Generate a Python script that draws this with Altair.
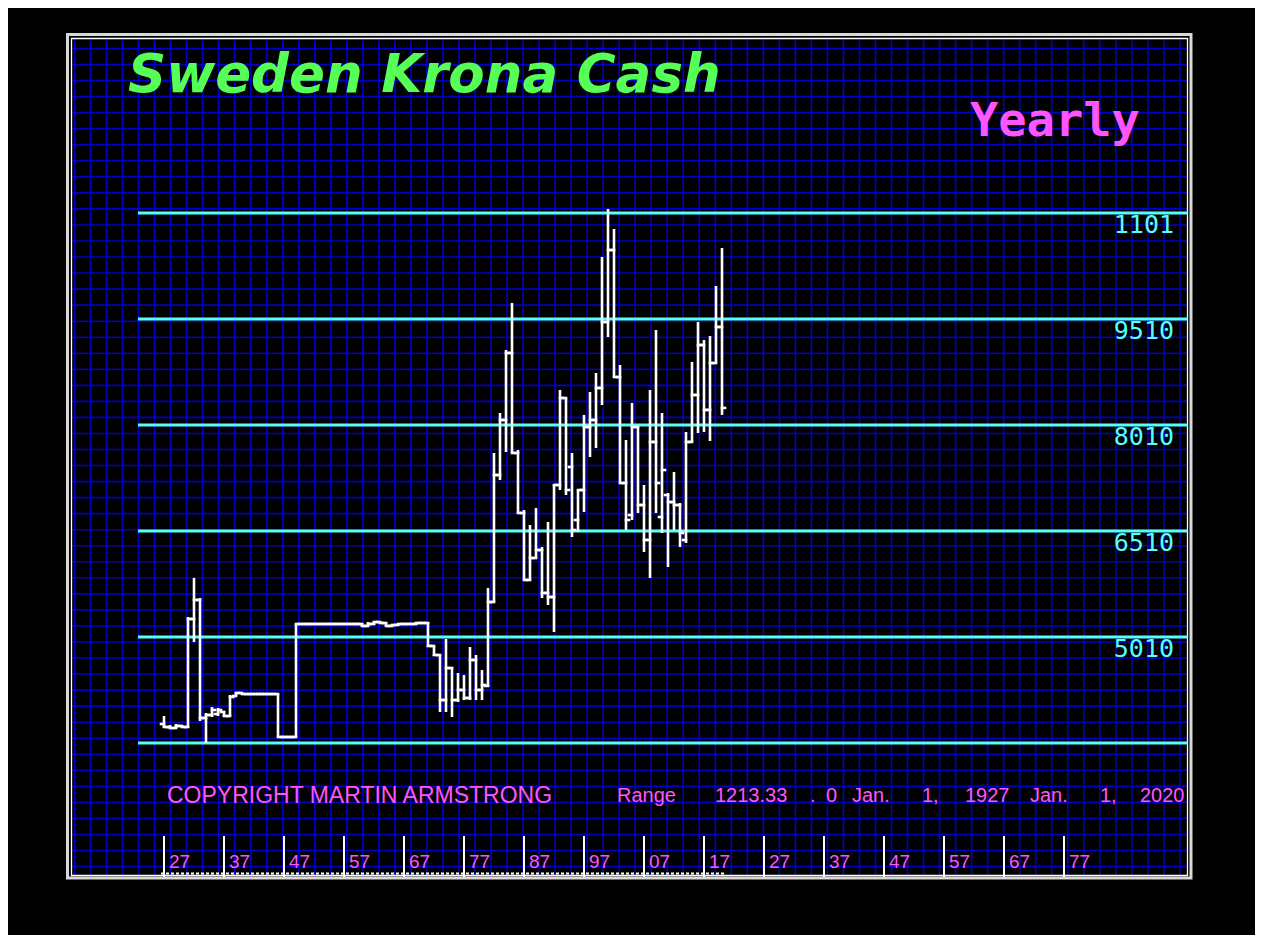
import altair as alt
import pandas as pd

# ---------------- data ----------------
years = list(range(1927, 2021))
opens = [3779, 3736, 3722, 3751, 3736, 5265, 5534, 3864, 3906, 3920,
         3949, 3892, 4175, 4218, 4203, 4203, 4203, 4203, 4203, 4203,
         3595, 3595, 3595, 5194, 5194, 5194, 5194, 5194, 5194, 5194,
         5194, 5194, 5194, 5194, 5166, 5194, 5222, 5208, 5166, 5180,
         5194, 5194, 5194, 5208, 5208, 4883, 4755, 4118, 4571, 4118,
         4260, 4147, 4685, 4260, 4317, 5505, 7302, 8081, 9029, 7614,
         6765, 5817, 6128, 6241, 5633, 5576, 7161, 8392, 7416, 6666,
         7090, 7982, 8081, 8534, 9468, 10486, 8689, 7189, 6736, 7982,
         6878, 6383, 7770, 6708, 7019, 6920, 6878, 6383, 7770, 8435,
         9142, 8223, 8887, 9397]
highs = [3892, 3765, 3779, 3765, 5293, 5845, 5562, 3935, 4019, 4005,
         3963, 4189, 4232, 4218, 4218, 4218, 4218, 4218, 4218, 4203,
         3609, 3609, 5194, 5208, 5208, 5208, 5208, 5208, 5208, 5208,
         5208, 5208, 5208, 5208, 5222, 5236, 5236, 5222, 5194, 5194,
         5208, 5208, 5222, 5222, 5222, 4883, 4755, 4982, 4585, 4501,
         4472, 4868, 4755, 4543, 5703, 7614, 8180, 9071, 9736, 7656,
         6807, 6595, 6835, 6284, 6637, 7161, 8505, 8392, 7614, 7090,
         8152, 8477, 8746, 10387, 11067, 10784, 8859, 7798, 8321, 7982,
         7161, 8505, 9354, 8180, 7048, 7345, 6906, 7911, 8902, 9468,
         9213, 9269, 9977, 10515]
lows = [3722, 3708, 3722, 3722, 3722, 4939, 3821, 3510, 3878, 3892,
        3878, 3892, 4175, 4189, 4189, 4189, 4189, 4189, 4189, 3595,
        3581, 3581, 3595, 5180, 5180, 5180, 5180, 5180, 5180, 5180,
        5180, 5180, 5180, 5151, 5151, 5180, 5194, 5166, 5151, 5166,
        5180, 5180, 5180, 5194, 4868, 4741, 3949, 3949, 3878, 4090,
        4118, 4118, 4118, 4118, 4302, 5505, 7232, 7628, 7614, 6765,
        5817, 5817, 6128, 5562, 5463, 5081, 7090, 7019, 6425, 6496,
        6779, 7557, 7685, 8293, 9255, 8689, 7189, 6524, 6666, 6765,
        6213, 5845, 6765, 6482, 6001, 6524, 6284, 6340, 7770, 7897,
        7911, 7784, 8887, 8152]
closes = [3736, 3722, 3751, 3736, 5265, 5534, 3864, 3906, 3977, 3977,
          3892, 4161, 4218, 4203, 4203, 4203, 4203, 4203, 4203, 3595,
          3595, 3595, 5194, 5194, 5194, 5194, 5194, 5194, 5194, 5194,
          5194, 5194, 5194, 5166, 5194, 5222, 5208, 5166, 5180, 5194,
          5194, 5194, 5208, 5208, 4883, 4755, 4118, 4571, 4118, 4260,
          4147, 4685, 4260, 4331, 5505, 7302, 8081, 9029, 7614, 6765,
          5817, 6128, 6241, 5633, 5576, 7161, 8392, 7090, 6524, 7090,
          7982, 8081, 8534, 9468, 10486, 8689, 7189, 6666, 7982, 6878,
          6383, 7770, 7189, 7373, 6920, 6878, 6482, 7770, 8435, 9142,
          8223, 8887, 9397, 8251]

level_values = [3510, 5010, 6510, 8010, 9510, 11010]
level_labels = ["", "5010", "6510", "8010", "9510", "1101"]

tick_years = [1927, 1937, 1947, 1957, 1967, 1977, 1987, 1997, 2007, 2017,
              2027, 2037, 2047, 2057, 2067, 2077]
tick_labels = ["27", "37", "47", "57", "67", "77", "87", "97", "07", "17",
               "27", "37", "47", "57", "67", "77"]

title_text = "Sweden Krona Cash"
period_text = "Yearly"
copyright_text = "COPYRIGHT MARTIN ARMSTRONG"
range_words = ["Range", "1213.33", ".", "0", "Jan.", "1,", "1927", "Jan.", "1,", "2020"]

# ---------------- layout ----------------
W, H = 1247, 927
OFF = 8


def px(v):
    return v - OFF


range_word_x = [617, 715, 810, 826, 852, 922, 965, 1030, 1100, 1140]

PX_PER_YEAR = 6.0
x_domain = [1927 - (164 - OFF) / PX_PER_YEAR, 1927 - (164 - OFF) / PX_PER_YEAR + W / PX_PER_YEAR]
ppu = 106 / 1500.0
y_domain = [3510 - (OFF + H - 743) / ppu, 11010 + (213 - OFF) / ppu]
xs = alt.Scale(domain=x_domain, nice=False, zero=False)
ys = alt.Scale(domain=y_domain, nice=False, zero=False)

BLUE = "#0000c8"
CYAN = "#55ffff"
PINK = "#ff55ff"
GREEN = "#55ff55"
LW = 2.6

one = pd.DataFrame({"a": [0]})

# grid
gx = [px(74.5 + 16.02 * k) for k in range(70)]
gy = [px(48.5 + 16.04 * k) for k in range(52)]
grid_v = alt.Chart(pd.DataFrame({"gx": gx})).mark_rule(color=BLUE, strokeWidth=1.6).encode(
    x=alt.X("gx:Q", scale=None, axis=None), y=alt.value(px(38.5)), y2=alt.value(px(875.5)))
grid_h = alt.Chart(pd.DataFrame({"gy": gy})).mark_rule(color=BLUE, strokeWidth=1.6).encode(
    y=alt.Y("gy:Q", scale=None, axis=None), x=alt.value(px(72)), x2=alt.value(px(1187.5)))

frame_outer = alt.Chart(one).mark_rect(fillOpacity=0, stroke="#d8d8d8", strokeWidth=3).encode(
    x=alt.value(px(67.5)), x2=alt.value(px(1191)), y=alt.value(px(34.5)), y2=alt.value(px(878)))
frame_inner = alt.Chart(one).mark_rect(fillOpacity=0, stroke="white", strokeWidth=1.3).encode(
    x=alt.value(px(71.5)), x2=alt.value(px(1187.5)), y=alt.value(px(38.5)), y2=alt.value(px(875.5)))

lev_df = pd.DataFrame({"level": level_values, "label": level_labels})
levels = alt.Chart(lev_df).mark_rule(color=CYAN, strokeWidth=3.2).encode(
    y=alt.Y("level:Q", scale=ys, axis=None), x=alt.value(px(138)), x2=alt.value(px(1187.5)))
level_text = alt.Chart(lev_df).mark_text(
    align="right", baseline="alphabetic", dy=20, color=CYAN,
    font="DejaVu Sans Mono", fontSize=25).encode(
    y=alt.Y("level:Q", scale=ys, axis=None), x=alt.value(px(1174)), text="label:N")

tick_df = pd.DataFrame({"ty": tick_years, "tl": tick_labels})
ticks = alt.Chart(tick_df).mark_rule(color="white", strokeWidth=2).encode(
    x=alt.X("ty:Q", scale=xs, axis=None), y=alt.value(px(836)), y2=alt.value(px(877)))
tick_text = alt.Chart(tick_df).mark_text(
    align="left", baseline="alphabetic", dx=5, color=PINK,
    font="Liberation Sans", fontSize=19).encode(
    x=alt.X("ty:Q", scale=xs, axis=None), y=alt.value(px(868)), text="tl:N")

base_df = pd.DataFrame({"x0": [years[0] - 0.5], "x1": [years[-1] + 0.5]})
baseline = alt.Chart(base_df).mark_rule(color="white", strokeWidth=2, strokeDash=[3, 2]).encode(
    x=alt.X("x0:Q", scale=xs, axis=None), x2="x1:Q", y=alt.value(px(873.5)))

df = pd.DataFrame({"year": years, "open": opens, "high": highs, "low": lows, "close": closes})
bars = alt.Chart(df)
wick = bars.mark_rule(color="white", strokeWidth=LW).encode(
    x=alt.X("year:Q", scale=xs, axis=None),
    y=alt.Y("low:Q", scale=ys, axis=None), y2="high:Q")
open_tick = bars.transform_calculate(xl="datum.year - 0.5").mark_rule(
    color="white", strokeWidth=LW, strokeCap="square").encode(
    x=alt.X("xl:Q", scale=xs, axis=None), x2="year:Q",
    y=alt.Y("open:Q", scale=ys, axis=None))
close_tick = bars.transform_calculate(xr="datum.year + 0.5").mark_rule(
    color="white", strokeWidth=LW, strokeCap="square").encode(
    x=alt.X("year:Q", scale=xs, axis=None), x2="xr:Q",
    y=alt.Y("close:Q", scale=ys, axis=None))


def label(text, x, y, **kw):
    d = pd.DataFrame({"x": [px(x)], "y": [px(y)], "t": [text]})
    return alt.Chart(d).mark_text(align="left", baseline="alphabetic", **kw).encode(
        x=alt.X("x:Q", scale=None, axis=None), y=alt.Y("y:Q", scale=None, axis=None), text="t:N")


title = label(title_text, 128, 92, font="DejaVu Sans", fontStyle="italic", fontWeight="bold",
              fontSize=53, color=GREEN)
period = label(period_text, 970, 136, font="DejaVu Sans Mono", fontWeight="bold",
               fontSize=47, color=PINK)
copyright_ = label(copyright_text, 167, 803, font="Liberation Sans", fontSize=23, color=PINK)

rng_df = pd.DataFrame({"x": [px(v) for v in range_word_x], "y": [px(802)] * len(range_words),
                       "t": range_words})
range_text = alt.Chart(rng_df).mark_text(
    align="left", baseline="alphabetic", font="Liberation Sans", fontSize=20, color=PINK).encode(
    x=alt.X("x:Q", scale=None, axis=None), y=alt.Y("y:Q", scale=None, axis=None), text="t:N")

chart = alt.layer(
    grid_v, grid_h, frame_outer, frame_inner, levels, level_text,
    ticks, tick_text, baseline, wick, open_tick, close_tick,
    title, period, copyright_, range_text
).resolve_scale(x="independent", y="independent").properties(
    width=W, height=H, padding=0, autosize="none", background="black"
).configure_view(stroke=None)

chart.save("out.html", embed_options={"renderer": "svg", "actions": False})
